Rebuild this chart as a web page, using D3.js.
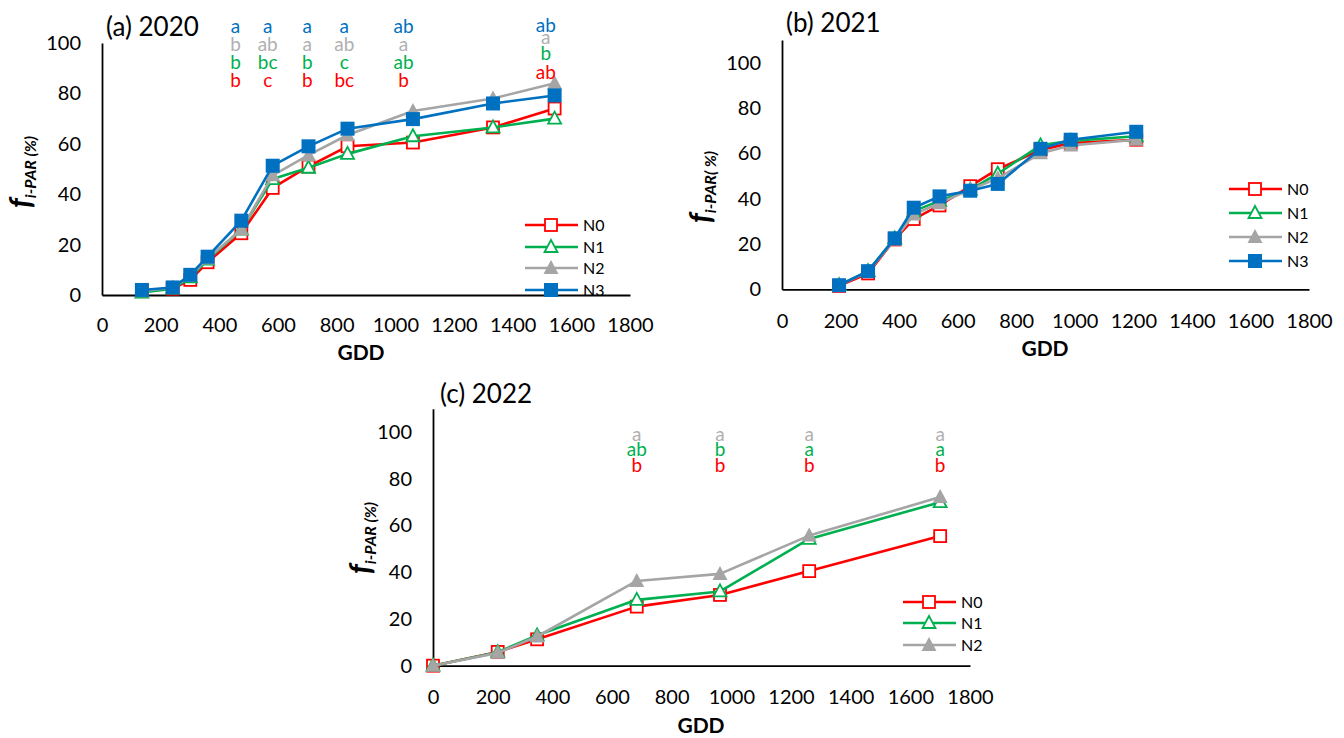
<!DOCTYPE html>
<html>
<head>
<meta charset="utf-8">
<script src="https://cdn.jsdelivr.net/npm/d3@7"></script>
<style>
  body { margin: 0; background: #fff; }
  svg { display: block; }
  text { font-family: Lato, "Open Sans", "DejaVu Sans", sans-serif; }
</style>
</head>
<body>
<svg id="chart" width="1344" height="738"></svg>
<script>
// ---- data: fraction of intercepted PAR (%) vs growing degree days ----
const series = ["N0", "N1", "N2", "N3"];

// 2020
const gdd2020 = [136, 241, 301, 360, 475, 582, 704, 837, 1060, 1333, 1543];
const n0_2020 = [1.5, 2.5, 6, 13, 24.5, 42.5, 51, 59, 60.5, 66.5, 74];
const n1_2020 = [1, 2.5, 7, 14, 26, 46, 50.5, 56, 63, 66.5, 70];
const n2_2020 = [1.5, 3, 7.5, 14.5, 26, 47.5, 55.5, 63.5, 73, 78, 84];
const n3_2020 = [2, 3, 8, 15.2, 29.5, 51.3, 59, 66, 69.8, 76, 79.2];

// 2021
const gdd2021 = [195, 294, 385, 450, 538, 643, 737, 883, 986, 1210];
const n0_2021 = [1.5, 7, 22, 31, 37, 45.5, 53, 61.5, 64.5, 66];
const n1_2021 = [1.8, 8, 22.5, 34.5, 39, 44, 51, 63.5, 65.5, 67.5];
const n2_2021 = [1.8, 7.8, 22, 33, 38, 44, 49, 60, 63.5, 66];
const n3_2021 = [1.8, 8, 22.5, 36, 41, 43.5, 46.5, 62, 66, 69.5];

// 2022
const gdd2022 = [0, 217, 349, 683, 962, 1261, 1700];
const n0_2022 = [0, 5.9, 11.3, 25.3, 30.3, 40.5, 55.5];
const n1_2022 = [0, 5.8, 13, 28.2, 31.8, 54.3, 70];
const n2_2022 = [0, 5.5, 12.5, 36.3, 39.3, 55.7, 72.2];

// significance letters (columns placed at the GDD given)
const letterGdd2020 = [455, 565, 700, 826, 1028, 1513];
const letters2020 = {
  N3: ["a", "a", "a", "a", "ab", "ab"],
  N2: ["b", "ab", "a", "ab", "a", "a"],
  N1: ["b", "bc", "b", "c", "ab", "b"],
  N0: ["b", "c", "b", "bc", "b", "ab"]
};
const letterGdd2022 = [683, 962, 1261, 1700];
const letters2022 = {
  N2: ["a", "a", "a", "a"],
  N1: ["ab", "b", "a", "a"],
  N0: ["b", "b", "b", "b"]
};

const xTicks = [0, 200, 400, 600, 800, 1000, 1200, 1400, 1600, 1800];
const yTicks = [0, 20, 40, 60, 80, 100];

// ---- styling ----
const lineColor = { N0: "#FF0000", N1: "#00B050", N2: "#A5A5A5", N3: "#0070C0" };
const letterColor = { N0: "#FF0000", N1: "#00B050", N2: "#B0B0B0", N3: "#0070C0" };

const svg = d3.select("#chart");

function drawMarker(g, name, x, y) {
  const c = lineColor[name];
  if (name === "N0") {
    g.append("rect").attr("x", x - 6).attr("y", y - 6).attr("width", 12).attr("height", 12)
      .attr("fill", "#fff").attr("stroke", c).attr("stroke-width", 1.8);
  } else if (name === "N1") {
    g.append("path").attr("d", `M${x},${y - 7}L${x + 6.5},${y + 5}L${x - 6.5},${y + 5}Z`)
      .attr("fill", "#fff").attr("stroke", c).attr("stroke-width", 1.8).attr("stroke-linejoin", "miter");
  } else if (name === "N2") {
    g.append("path").attr("d", `M${x},${y - 8}L${x + 7.5},${y + 6}L${x - 7.5},${y + 6}Z`)
      .attr("fill", c);
  } else {
    g.append("rect").attr("x", x - 7).attr("y", y - 7).attr("width", 14).attr("height", 14)
      .attr("fill", c);
  }
}

function drawPanel(p) {
  const g = svg.append("g");
  const x = d3.scaleLinear().domain([0, 1800]).range(p.xRange);
  const y = d3.scaleLinear().domain([0, p.yMax]).range(p.yRange);

  // axes
  const xAxis = g.append("g").attr("transform", `translate(0,${p.yRange[0]})`)
    .call(d3.axisBottom(x).tickValues(xTicks).tickSize(0).tickPadding(p.xPad).tickFormat(d3.format("d")));
  const yAxis = g.append("g").attr("transform", `translate(${p.xRange[0]},0)`)
    .call(d3.axisLeft(y).tickValues(yTicks).tickSize(0).tickPadding(21).tickFormat(d3.format("d")));
  [xAxis, yAxis].forEach(a => {
    a.select(".domain").attr("stroke", "#000").attr("stroke-width", 1.8);
    a.selectAll("text").attr("font-size", 20).attr("font-family", "Lato, sans-serif").attr("fill", "#000");
  });

  // series lines then markers, one series at a time
  p.series.forEach(s => {
    const pts = p.gdd.map((d, i) => [x(d), y(s.values[i])]);
    g.append("path").attr("d", d3.line()(pts)).attr("fill", "none")
      .attr("stroke", lineColor[s.name]).attr("stroke-width", 2.6).attr("stroke-linejoin", "round");
    const mg = g.append("g");
    pts.forEach(([px, py]) => drawMarker(mg, s.name, px, py));
  });

  // letters
  if (p.letters) {
    Object.keys(p.letters.rows).forEach(name => {
      const row = p.letters.rows[name];
      row.forEach((t, i) => {
        const last = i === row.length - 1 && p.letters.lastBase;
        const base = last ? p.letters.lastBase[name] : p.letters.base[name];
        g.append("text").attr("x", x(p.letters.gdd[i])).attr("y", base)
          .attr("text-anchor", "middle").attr("font-size", 19)
          .attr("fill", letterColor[name]).text(t);
      });
    });
  }

  // legend
  p.series.forEach((s, i) => {
    const ly = p.legend.rows[i];
    g.append("line").attr("x1", p.legend.x).attr("x2", p.legend.x + 53)
      .attr("y1", ly).attr("y2", ly).attr("stroke", lineColor[s.name]).attr("stroke-width", 2.6);
    drawMarker(g, s.name, p.legend.x + 26, ly);
    g.append("text").attr("x", p.legend.x + 58).attr("y", ly).attr("dy", "0.36em")
      .attr("font-size", 16).attr("fill", "#000").text(s.name);
  });

  // title
  g.append("text").attr("x", p.title.x).attr("y", p.title.y).attr("font-size", 26)
    .attr("fill", "#000").text(p.title.text);

  // x axis title
  g.append("text").attr("x", p.gddLabel.x).attr("y", p.gddLabel.y).attr("text-anchor", "middle")
    .attr("font-size", 21).attr("font-weight", "bold").attr("fill", "#000").text("GDD");

  // y axis title
  const yl = g.append("text")
    .attr("transform", `translate(${p.yLabel.x},${p.yLabel.y}) rotate(-90)`)
    .attr("text-anchor", "middle").attr("font-weight", "bold").attr("font-style", "italic")
    .attr("fill", "#000");
  yl.append("tspan").attr("font-size", 30).text("f");
  yl.append("tspan").attr("font-size", 16).attr("dy", 5).text(p.yLabel.sub);
}

drawPanel({
  xRange: [102, 630], yRange: [295, 43], yMax: 100, xPad: 23,
  gdd: gdd2020,
  series: [
    { name: "N0", values: n0_2020 }, { name: "N1", values: n1_2020 },
    { name: "N2", values: n2_2020 }, { name: "N3", values: n3_2020 }
  ],
  letters: {
    gdd: letterGdd2020, rows: letters2020,
    base: { N3: 33, N2: 51, N1: 69, N0: 87 },
    lastBase: { N3: 32, N2: 44, N1: 60, N0: 79 }
  },
  legend: { x: 525, rows: [225, 247, 268, 290] },
  title: { x: 106, y: 36, text: "(a) 2020" },
  gddLabel: { x: 361, y: 360 },
  yLabel: { x: 31, y: 172, sub: "i-PAR (%)" }
});

drawPanel({
  xRange: [782, 1309], yRange: [289.3, 40], yMax: 110, xPad: 25,
  gdd: gdd2021,
  series: [
    { name: "N0", values: n0_2021 }, { name: "N1", values: n1_2021 },
    { name: "N2", values: n2_2021 }, { name: "N3", values: n3_2021 }
  ],
  legend: { x: 1229, rows: [189, 213, 237, 261] },
  title: { x: 786, y: 32, text: "(b) 2021" },
  gddLabel: { x: 1045, y: 356 },
  yLabel: { x: 711, y: 187, sub: "i-PAR( %)" }
});

drawPanel({
  xRange: [433, 970], yRange: [665.7, 408.8], yMax: 110, xPad: 24,
  gdd: gdd2022,
  series: [
    { name: "N0", values: n0_2022 }, { name: "N1", values: n1_2022 },
    { name: "N2", values: n2_2022 }
  ],
  letters: {
    gdd: letterGdd2022, rows: letters2022,
    base: { N2: 441, N1: 456, N0: 472 }
  },
  legend: { x: 903, rows: [602, 623, 645] },
  title: { x: 440, y: 403, text: "(c) 2022" },
  gddLabel: { x: 701, y: 733 },
  yLabel: { x: 371, y: 538, sub: "i-PAR (%)" }
});
</script>
</body>
</html>
